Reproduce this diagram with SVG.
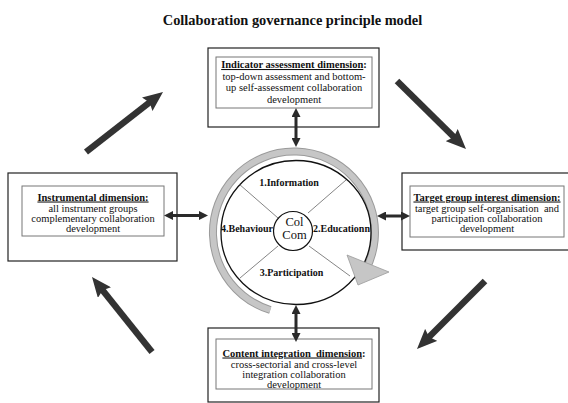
<svg xmlns="http://www.w3.org/2000/svg" width="568" height="403" viewBox="0 0 568 403">
<style>
text{font-family:"Liberation Serif","Times New Roman",serif;fill:#111}
.title{font-size:14.4px;font-weight:bold}
.bt{font-size:10.5px;font-weight:bold;text-anchor:middle}
.t{font-size:10.5px;text-anchor:middle}
.lab{font-size:10px;font-weight:bold;text-anchor:middle}
.cc{font-size:12.5px;text-anchor:middle}
.outer{fill:#fff;stroke:#222;stroke-width:1.2}
.inner{fill:#fff;stroke:#777;stroke-width:1}
.big{stroke:#333;stroke-width:6.5;fill:none;marker-end:url(#bigHead)}
.dbl{stroke:#2a2a2a;stroke-width:3;fill:none;marker-start:url(#smallHead);marker-end:url(#smallHead)}
.div{stroke:#666;stroke-width:0.8}
</style>
<defs>
<marker id="bigHead" markerUnits="userSpaceOnUse" markerWidth="20" markerHeight="17" viewBox="0 0 20 17" refX="4" refY="8.5" orient="auto">
<path d="M0,0 L20,8.5 L0,17 L3,8.5 z" fill="#333"/>
</marker>
<marker id="smallHead" markerUnits="userSpaceOnUse" markerWidth="9" markerHeight="9" viewBox="0 0 9 9" refX="2" refY="4.5" orient="auto-start-reverse">
<path d="M0,0 L9,4.5 L0,9 z" fill="#2a2a2a"/>
</marker>
</defs>
<rect width="568" height="403" fill="#fff"/>
<text class="title" x="292.5" y="25" text-anchor="middle">Collaboration governance principle model</text>

<g id="center">
<path d="M270.3,310 A81,81 0 1 1 365.5,270.5" fill="none" stroke="#9a9a9a" stroke-width="8"/>
<path d="M270.3,310 A81,81 0 1 1 365.5,270.5" fill="none" stroke="#c6c6c6" stroke-width="6"/>
<ellipse cx="296" cy="232.5" rx="75" ry="72" fill="#fff" stroke="#111" stroke-width="1.3"/>
<line class="div" x1="239" y1="184" x2="278" y2="218"/>
<line class="div" x1="346" y1="180" x2="308" y2="213"/>
<line class="div" x1="240" y1="278" x2="278" y2="246"/>
<line class="div" x1="350" y1="276" x2="309" y2="246"/>
<polygon points="347,255 389,272 358,285" fill="#c6c6c6" stroke="#9a9a9a" stroke-width="0.8"/>
<circle cx="293" cy="231" r="19.5" fill="#fff" stroke="#111" stroke-width="1.2"/>
<text class="cc" x="294.5" y="225.5">Col</text>
<text class="cc" x="294.5" y="238.5">Com</text>
<text class="lab" x="289" y="185.5">1.Information</text>
<text class="lab" x="341.5" y="231.5">2.Educationn</text>
<text class="lab" x="291.5" y="275.5">3.Participation</text>
<text class="lab" x="247" y="231.5">4.Behaviour</text>
</g>

<g id="indicator">
<rect class="outer" x="208" y="48" width="171" height="79"/>
<rect class="inner" x="216" y="57" width="156" height="51"/>
<text class="bt" x="294" y="68"><tspan text-decoration="underline">Indicator assessment dimension</tspan>:</text>
<text class="t" x="294" y="79.5">top-down assessment and bottom-</text>
<text class="t" x="294" y="91">up self-assessment collaboration</text>
<text class="t" x="294" y="102.5">development</text>
</g>

<g id="instrumental">
<rect class="outer" x="8" y="173" width="169" height="88"/>
<rect class="inner" x="22" y="186" width="142" height="50"/>
<text class="bt" x="93" y="200.5" text-decoration="underline">Instrumental dimension:</text>
<text class="t" x="93" y="211.5">all instrument groups</text>
<text class="t" x="93" y="221.5">complementary collaboration</text>
<text class="t" x="93" y="231.5">development</text>
</g>

<g id="target">
<rect class="outer" x="402" y="173" width="172" height="77"/>
<rect class="inner" x="410" y="186" width="154" height="51"/>
<text class="bt" x="487" y="200.5" text-decoration="underline">Target group interest dimension:</text>
<text class="t" x="487" y="211.5" xml:space="preserve">target group self-organisation  and</text>
<text class="t" x="487" y="222">participation collaboration</text>
<text class="t" x="487" y="232">development</text>
</g>

<g id="content">
<rect class="outer" x="208" y="328" width="171" height="74"/>
<rect class="inner" x="216" y="339" width="156" height="50"/>
<text class="bt" x="294" y="356.5" xml:space="preserve"><tspan text-decoration="underline">Content integration  dimension</tspan>:</text>
<text class="t" x="294" y="367.5">cross-sectorial and cross-level</text>
<text class="t" x="294" y="377.5">integration collaboration</text>
<text class="t" x="294" y="387.5">development</text>
</g>

<g id="connectors">
<line class="dbl" x1="296" y1="115" x2="296" y2="140"/>
<line class="dbl" x1="296" y1="312" x2="296" y2="335"/>
<line class="dbl" x1="171" y1="215.5" x2="201" y2="215.5"/>
<line class="dbl" x1="384" y1="216" x2="403" y2="216"/>
<line class="big" x1="86" y1="152" x2="150.4" y2="101.8"/>
<line class="big" x1="397" y1="81" x2="454.6" y2="137.8"/>
<line class="big" x1="485" y1="281" x2="428.3" y2="337.7"/>
<line class="big" x1="152" y1="352" x2="102" y2="289.5"/>
</g>
</svg>
